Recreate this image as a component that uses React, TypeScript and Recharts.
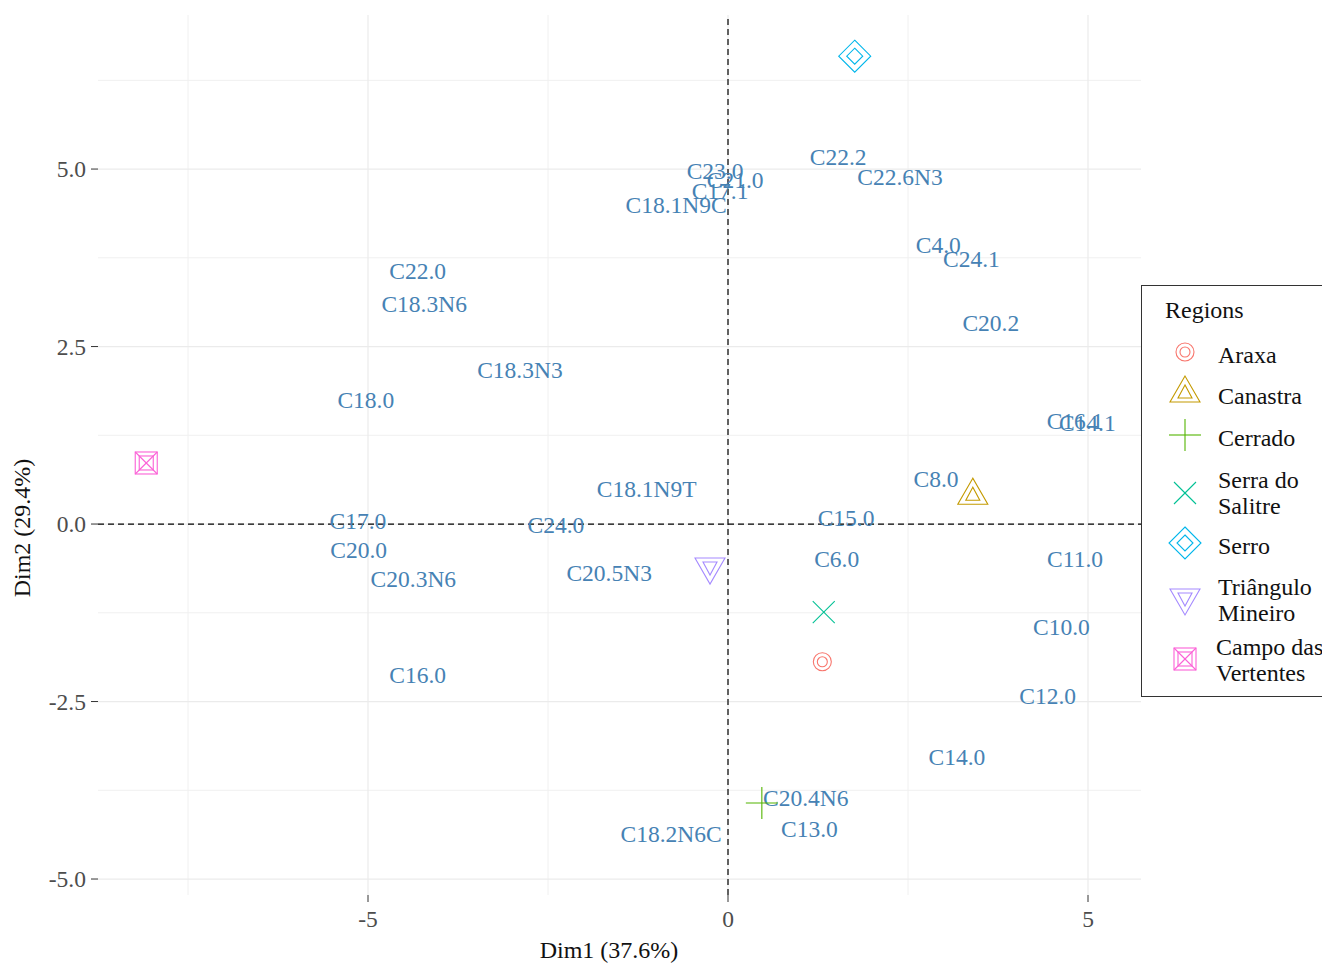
import * as React from "react";
import { ScatterChart, Scatter, XAxis, YAxis, ReferenceLine } from "recharts";

// variable labels (PCA loadings, rescaled)
const labelNames = [
  "C22.2", "C22.6N3", "C23.0", "C21.0", "C17.1", "C18.1N9C", "C4.0", "C24.1",
  "C22.0", "C18.3N6", "C20.2", "C18.3N3", "C18.0", "C16.1", "C14.1", "C8.0",
  "C18.1N9T", "C17.0", "C15.0", "C24.0", "C20.0", "C6.0", "C11.0", "C20.5N3",
  "C20.3N6", "C10.0", "C16.0", "C12.0", "C14.0", "C20.4N6", "C13.0", "C18.2N6C",
];
const labelX = [
  1.53, 2.39, -0.18, 0.1, -0.11, -0.72, 2.92, 3.38,
  -4.31, -4.22, 3.65, -2.89, -5.03, 4.82, 4.99, 2.89,
  -1.13, -5.14, 1.64, -2.39, -5.13, 1.51, 4.82, -1.65,
  -4.37, 4.63, -4.31, 4.44, 3.18, 1.08, 1.13, -0.79,
];
const labelY = [
  5.17, 4.89, 4.97, 4.85, 4.69, 4.49, 3.93, 3.73,
  3.56, 3.1, 2.83, 2.17, 1.75, 1.45, 1.42, 0.63,
  0.49, 0.04, 0.08, -0.01, -0.37, -0.49, -0.49, -0.69,
  -0.77, -1.45, -2.13, -2.42, -3.28, -3.86, -4.3, -4.37,
];

// region centroids
const regionNames = [
  "Araxa", "Canastra", "Cerrado", "Serra do Salitre", "Serro",
  "Triângulo Mineiro", "Campo das Vertentes",
];
const regionLegend = [
  ["Araxa"], ["Canastra"], ["Cerrado"], ["Serra do", "Salitre"], ["Serro"],
  ["Triângulo", "Mineiro"], ["Campo das", "Vertentes"],
];
const regionX = [1.31, 3.4, 0.47, 1.33, 1.76, -0.25, -8.08];
const regionY = [-1.94, 0.42, -3.93, -1.24, 6.59, -0.62, 0.86];
const regionColors = ["#F8766D", "#C49A00", "#53B400", "#00C094", "#00B6EB", "#A58AFF", "#FB61D7"];

const xTicks = [-5, 0, 5];
const yTicks = [-5, -2.5, 0, 2.5, 5];
const xMinor = [-7.5, -2.5, 2.5];
const yMinor = [-3.75, -1.25, 1.25, 3.75, 6.25];

const FONT = '"Liberation Serif", "Times New Roman", serif';

const labelData = labelNames.map((name, i) => ({ name, x: labelX[i], y: labelY[i] }));
const regionData = regionNames.map((name, i) => ({ name, x: regionX[i], y: regionY[i], idx: i }));

function Marker({ kind, x, y, color }: { kind: number; x: number; y: number; color: string }) {
  const p = { fill: "none", stroke: color, strokeWidth: 1.1 };
  switch (kind) {
    case 0:
      return (
        <g>
          <circle cx={x} cy={y} r={9} {...p} />
          <circle cx={x} cy={y} r={5} {...p} />
        </g>
      );
    case 1:
      return (
        <g>
          <polygon points={`${x},${y - 16} ${x - 15},${y + 10} ${x + 15},${y + 10}`} {...p} />
          <polygon points={`${x},${y - 7} ${x - 7},${y + 6} ${x + 7},${y + 6}`} {...p} />
        </g>
      );
    case 2:
      return (
        <g>
          <line x1={x - 16} y1={y} x2={x + 16} y2={y} {...p} />
          <line x1={x} y1={y - 16} x2={x} y2={y + 16} {...p} />
        </g>
      );
    case 3:
      return (
        <g>
          <line x1={x - 11} y1={y - 11} x2={x + 11} y2={y + 11} {...p} />
          <line x1={x - 11} y1={y + 11} x2={x + 11} y2={y - 11} {...p} />
        </g>
      );
    case 4:
      return (
        <g>
          <polygon points={`${x},${y - 16} ${x + 16},${y} ${x},${y + 16} ${x - 16},${y}`} {...p} />
          <polygon points={`${x},${y - 8} ${x + 8},${y} ${x},${y + 8} ${x - 8},${y}`} {...p} />
        </g>
      );
    case 5:
      return (
        <g>
          <polygon points={`${x - 15},${y - 10} ${x + 15},${y - 10} ${x},${y + 16}`} {...p} />
          <polygon points={`${x - 7},${y - 6} ${x + 7},${y - 6} ${x},${y + 7}`} {...p} />
        </g>
      );
    default:
      return (
        <g>
          <rect x={x - 11} y={y - 11} width={22} height={22} {...p} />
          <rect x={x - 7} y={y - 7} width={14} height={14} {...p} />
          <line x1={x - 11} y1={y - 11} x2={x + 11} y2={y + 11} {...p} />
          <line x1={x - 11} y1={y + 11} x2={x + 11} y2={y - 11} {...p} />
        </g>
      );
  }
}

const LabelShape = (props: any) => (
  <text
    x={props.cx}
    y={props.cy}
    textAnchor="middle"
    dominantBaseline="central"
    fill="#4682B4"
    fontSize={23.5}
    fontFamily={FONT}
  >
    {props.payload.name}
  </text>
);

const RegionShape = (props: any) => (
  <Marker kind={props.payload.idx} x={props.cx} y={props.cy} color={regionColors[props.payload.idx]} />
);

function RegionLegend() {
  const centers = [351, 391, 434, 492, 542, 598, 658];
  const textShift = [3, 4, 3, 0, 3, 1, 1];
  return (
    <div
      style={{
        position: "absolute",
        left: 1141,
        top: 285,
        width: 181,
        height: 412,
        boxSizing: "border-box",
        border: "1px solid #333",
        borderRight: "none",
        fontFamily: FONT,
        color: "#111",
        fontSize: 24,
      }}
    >
      <div style={{ position: "absolute", left: 23, top: 11, lineHeight: "26px" }}>Regions</div>
      {regionLegend.map((lines, i) => {
        const cy = centers[i] - 285;
        return (
          <React.Fragment key={regionNames[i]}>
            <svg
              width={40}
              height={40}
              style={{ position: "absolute", left: 23, top: cy - 20, overflow: "visible" }}
            >
              <Marker kind={i} x={20} y={20} color={regionColors[i]} />
            </svg>
            <div
              style={{
                position: "absolute",
                left: i === 6 ? 74 : 76,
                top: cy - (lines.length * 26) / 2 + textShift[i],
                lineHeight: "26px",
                whiteSpace: "nowrap",
              }}
            >
              {lines.map((l) => (
                <div key={l}>{l}</div>
              ))}
            </div>
          </React.Fragment>
        );
      })}
    </div>
  );
}

export default function App() {
  const tick = { fill: "#4D4D4D", fontSize: 23.5, fontFamily: FONT };
  return (
    <div style={{ position: "absolute", left: 0, top: 0, width: 1322, height: 963, overflow: "hidden", background: "#fff" }}>
      <ScatterChart width={1322} height={963} margin={{ top: 15, right: 181, bottom: 0, left: 0 }}>
        <XAxis
          type="number"
          dataKey="x"
          domain={[-8.75, 5.736]}
          ticks={xTicks}
          allowDataOverflow
          axisLine={false}
          tickSize={7}
          tickMargin={8}
          tickLine={{ stroke: "#333" }}
          tick={tick}
          height={68}
        />
        <YAxis
          type="number"
          dataKey="y"
          domain={[-5.225, 7.17]}
          ticks={yTicks}
          allowDataOverflow
          axisLine={false}
          tickSize={7}
          tickMargin={5}
          tickLine={{ stroke: "#333" }}
          tick={tick}
          tickFormatter={(v: number) => v.toFixed(1)}
          width={98}
        />
        {xMinor.map((v) => (
          <ReferenceLine key={`xm${v}`} x={v} stroke="#F0F0F0" strokeWidth={1} />
        ))}
        {yMinor.map((v) => (
          <ReferenceLine key={`ym${v}`} y={v} stroke="#F0F0F0" strokeWidth={1} />
        ))}
        {xTicks.map((v) => (
          <ReferenceLine key={`xM${v}`} x={v} stroke="#EBEBEB" strokeWidth={1.2} />
        ))}
        {yTicks.map((v) => (
          <ReferenceLine key={`yM${v}`} y={v} stroke="#EBEBEB" strokeWidth={1.2} />
        ))}
        <ReferenceLine x={0} stroke="#000" strokeWidth={1.2} strokeDasharray="6 4" />
        <ReferenceLine y={0} stroke="#000" strokeWidth={1.2} strokeDasharray="6 4" />
        <Scatter data={labelData} shape={LabelShape} isAnimationActive={false} />
        <Scatter data={regionData} shape={RegionShape} isAnimationActive={false} />
      </ScatterChart>
      <div
        style={{
          position: "absolute",
          left: 609,
          top: 950,
          transform: "translate(-50%, -50%)",
          fontFamily: FONT,
          fontSize: 24,
          color: "#111",
          whiteSpace: "nowrap",
        }}
      >
        Dim1 (37.6%)
      </div>
      <div
        style={{
          position: "absolute",
          left: 22,
          top: 528,
          transform: "translate(-50%, -50%) rotate(-90deg)",
          fontFamily: FONT,
          fontSize: 24,
          color: "#111",
          whiteSpace: "nowrap",
        }}
      >
        Dim2 (29.4%)
      </div>
      <RegionLegend />
    </div>
  );
}
